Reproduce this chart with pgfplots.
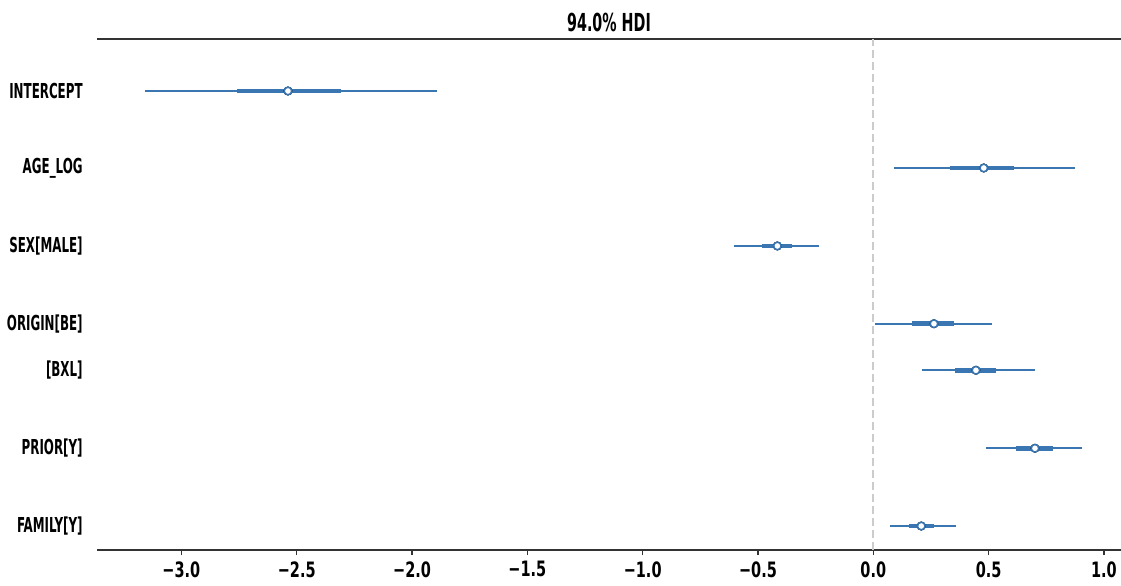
\documentclass[border=0pt]{standalone}
\usepackage{fontspec}
\setmainfont{DejaVu Sans Condensed}[FakeStretch=0.76]
\newfontfamily\labfont{DejaVu Sans Condensed}[FakeStretch=0.64]
\usepackage{pgfplots}
\pgfplotsset{compat=1.18}
\usepackage{pgfplotstable}
\definecolor{fblue}{HTML}{3A76B2}
\definecolor{spine}{HTML}{333333}
\definecolor{zgray}{HTML}{CCCCCC}

\pgfplotstableread{
y     lo     hi     qlo    qhi    med
5.915 -3.158 -1.892 -2.760 -2.309 -2.538
4.923 0.088  0.875  0.333  0.610  0.479
3.918 -0.604 -0.236 -0.484 -0.351 -0.416
2.916 0.006  0.515  0.167  0.351  0.263
2.316 0.210  0.702  0.354  0.533  0.445
1.311 0.489  0.904  0.619  0.777  0.701
0.309 0.074  0.357  0.156  0.265  0.208
}\foresttab

\begin{document}
\begin{tikzpicture}
\path[use as bounding box] (0,0) rectangle (560.5pt,292.5pt);
\begin{axis}[
  at={(48.5pt,17.5pt)}, anchor=south west,
  scale only axis, width=512pt, height=255.5pt,
  xmin=-3.366, xmax=1.074, ymin=0, ymax=6.585,
  separate axis lines,
  y axis line style={draw=none},
  x axis line style={draw=spine, line width=0.8pt},
  xtick={-3,-2.5,-2,-1.5,-1,-0.5,0,0.5,1},
  xticklabels={−3.0,−2.5,−2.0,−1.5,−1.0,−0.5,0.0,0.5,1.0},
  xtick pos=bottom, tick align=outside,
  major tick length=2.5pt,
  xtick style={draw=spine, line width=0.6pt},
  ytick={5.915,4.923,3.918,2.916,2.316,1.311,0.309},
  yticklabels={{INTERCEPT},{AGE\_LOG},{SEX[MALE]},{ORIGIN[BE]},{[BXL]},{PRIOR[Y]},{FAMILY[Y]}},
  ytick style={draw=none},
  y tick label style={font=\labfont\bfseries\fontsize{10.3}{12}\selectfont, anchor=east, inner sep=0pt, xshift=-4.5pt},
  x tick label style={font=\bfseries\fontsize{10.6}{12}\selectfont, anchor=north, inner sep=0pt, yshift=-3pt},
  title={94.0\% HDI},
  title style={font=\labfont\bfseries\fontsize{12.4}{14}\selectfont, at={(0.5,1)}, anchor=base, inner sep=0pt, yshift=-2pt},
]
\addplot[zgray, line width=0.9pt, dash pattern=on 4pt off 2pt] coordinates {(0,0) (0,6.585)};
\addplot[only marks, mark=none, error bars/.cd, x dir=both, x explicit, error mark=none,
  error bar style={fblue, line width=1.1pt}]
  table[x=med, y=y, x error plus expr=\thisrow{hi}-\thisrow{med}, x error minus expr=\thisrow{med}-\thisrow{lo}] {\foresttab};
\addplot[only marks, mark=none, error bars/.cd, x dir=both, x explicit, error mark=none,
  error bar style={fblue, line width=2.3pt}]
  table[x=med, y=y, x error plus expr=\thisrow{qhi}-\thisrow{med}, x error minus expr=\thisrow{med}-\thisrow{qlo}] {\foresttab};
\addplot[only marks, mark=*, mark size=1.9pt, mark options={fill=white, draw=fblue, line width=0.8pt}]
  table[x=med, y=y] {\foresttab};
\end{axis}
\end{tikzpicture}
\end{document}
